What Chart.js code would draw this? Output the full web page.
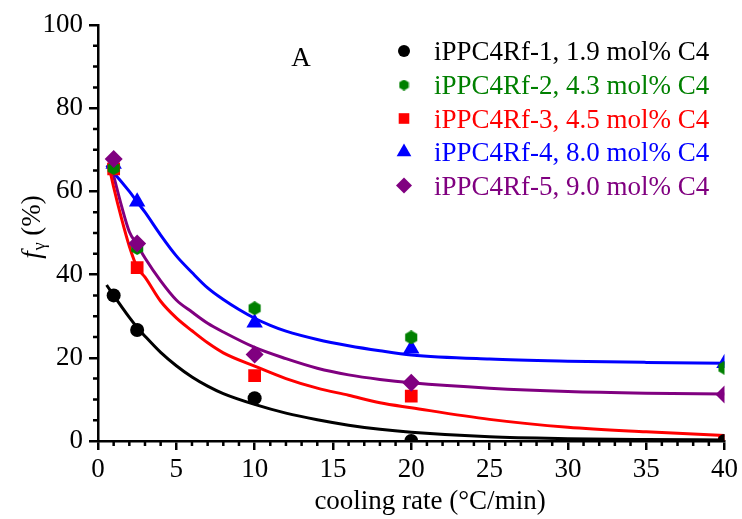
<!DOCTYPE html>
<html><head><meta charset="utf-8">
<script src="https://cdn.jsdelivr.net/npm/chart.js@4"></script>
<style>html,body{margin:0;padding:0;background:#fff}#wrap{width:742px;height:519px}</style>
</head><body><div id="wrap"><canvas id="c" width="742" height="519"></canvas></div>
<script>
// ---- data ----
const coolingRates = [1, 2.5, 10, 20, 40];
const seriesNames = [
  'iPPC4Rf-1, 1.9 mol% C4',
  'iPPC4Rf-2, 4.3 mol% C4',
  'iPPC4Rf-3, 4.5 mol% C4',
  'iPPC4Rf-4, 8.0 mol% C4',
  'iPPC4Rf-5, 9.0 mol% C4'
];
const fGamma1 = [35, 26.7, 10.3, 0, 0];
const fGamma2 = [65.6, 46.4, 31.9, 24.9, 17.6];
const fGamma3 = [65.4, 41.7, 15.7, 10.8, 0];
const fGamma4 = [66.6, 57.5, 28.4, 22.2, 18.7];
const fGamma5 = [67.8, 47.5, 20.8, 14.0, 11.2];

// fitted curves
const fitX1 = [0.55, 1, 2, 2.5, 3, 4, 5, 6, 7, 8, 10, 12, 14, 16, 18, 20, 25, 30, 35, 40];
const fitY1 = [37.5, 35, 29.7, 27.3, 25.2, 21.3, 18.1, 15.4, 13.2, 11.4, 8.8, 6.7, 5.1, 3.8, 2.8, 2.1, 1.0, 0.55, 0.35, 0.25];
const fitX3 = [0.66, 1, 1.5, 2, 2.5, 3, 4, 5, 6, 7, 8, 10, 12, 14, 16, 18, 20, 25, 30, 35, 40];
const fitY3 = [66.8, 61, 53.5, 46.8, 41.7, 39.4, 33.6, 29.6, 26.5, 23.6, 21.2, 18, 15, 12.7, 11.0, 9.2, 8.0, 5.2, 3.3, 2.2, 1.3];
const fitX4 = [0.55, 1, 2, 2.5, 3, 4, 5, 6, 7, 8, 9, 10, 11, 12, 14, 16, 18, 20, 25, 30, 35, 40];
const fitY4 = [66.3, 64.5, 60, 57.5, 55, 49.5, 44.5, 40.5, 36.8, 34, 31.6, 29.5, 27.8, 26.4, 24.4, 22.9, 21.7, 20.7, 19.7, 19.2, 18.9, 18.7];
const fitX5 = [0.76, 1, 1.5, 2, 2.5, 3, 4, 5, 6, 7, 8, 10, 12, 14, 16, 18, 20, 25, 30, 35, 40];
const fitY5 = [67.1, 63.7, 56.5, 50.3, 47.2, 44, 38.5, 33.9, 31, 28.3, 26.2, 22.5, 19.8, 17.5, 15.9, 14.8, 14.0, 12.7, 11.9, 11.5, 11.3];

const xTickValues = [0, 5, 10, 15, 20, 25, 30, 35, 40];
const yTickValues = [0, 20, 40, 60, 80, 100];

// ---- styles ----
const FONT = '"Liberation Serif", "Times New Roman", serif';
const colors = ['#000000', '#008000', '#ff0000', '#0000ff', '#800080'];

function hexCanvas(size, color) {
  const c = document.createElement('canvas');
  c.width = c.height = size;
  const g = c.getContext('2d');
  g.fillStyle = color;
  g.beginPath();
  const r = size / 2;
  for (let i = 0; i < 6; i++) {
    const a = Math.PI / 3 * i - Math.PI / 2;
    const px = r + r * Math.cos(a), py = r + r * Math.sin(a);
    if (i) g.lineTo(px, py); else g.moveTo(px, py);
  }
  g.closePath(); g.fill();
  return c;
}
const hexBig = hexCanvas(14, colors[1]);
const hexSmall = hexCanvas(11, colors[1]);

const markerStyles = [
  { pointStyle: 'circle', radius: 7, legendRadius: 6 },
  { pointStyle: hexBig, radius: 7, legendStyle: hexSmall, legendRadius: 5 },
  { pointStyle: 'rect', radius: 9, legendRadius: 7.5 },
  { pointStyle: 'triangle', radius: 9.5, legendRadius: 8.5 },
  { pointStyle: 'rectRot', radius: 9, legendRadius: 8 }
];
const drawOrder = [3, 2, 4, 5, 1];

const pointSets = [fGamma1, fGamma2, fGamma3, fGamma4, fGamma5];
const toXY = (xs, ys) => xs.map((x, i) => ({ x: x, y: ys[i] }));

const datasets = [];
pointSets.forEach((vals, i) => {
  datasets.push({
    label: seriesNames[i],
    data: toXY(coolingRates, vals),
    showLine: false,
    pointStyle: markerStyles[i].pointStyle,
    pointRadius: markerStyles[i].radius,
    pointHoverRadius: markerStyles[i].radius,
    backgroundColor: colors[i],
    borderColor: colors[i],
    pointBorderWidth: 0,
    order: drawOrder[i]
  });
});
const fits = [[fitX1, fitY1, 0], [fitX3, fitY3, 2], [fitX4, fitY4, 3], [fitX5, fitY5, 4]];
fits.forEach(([xs, ys, ci]) => {
  datasets.push({
    label: 'fit',
    data: toXY(xs, ys),
    showLine: true,
    borderColor: colors[ci],
    borderWidth: 3,
    pointRadius: 0,
    cubicInterpolationMode: 'monotone',
    fill: false,
    order: 10
  });
});

const extrasPlugin = {
  id: 'extras',
  afterDraw(chart) {
    const ctx = chart.ctx;
    const xs = chart.scales.x, ys = chart.scales.y;
    const x0 = xs.getPixelForValue(0), y0 = ys.getPixelForValue(0);
    ctx.save();
    // minor ticks
    ctx.strokeStyle = '#000';
    ctx.lineWidth = 2.5;
    ctx.beginPath();
    for (let v = 1; v < 40; v++) {
      if (v % 5 === 0) continue;
      const px = xs.getPixelForValue(v);
      ctx.moveTo(px, y0); ctx.lineTo(px, y0 + 5);
    }
    for (let v = 5; v < 100; v += 5) {
      if (v % 20 === 0) continue;
      const py = ys.getPixelForValue(v);
      ctx.moveTo(x0, py); ctx.lineTo(x0 - 5, py);
    }
    ctx.stroke();

    // panel label
    ctx.fillStyle = '#000';
    ctx.font = '27px ' + FONT;
    ctx.textAlign = 'center';
    ctx.textBaseline = 'alphabetic';
    ctx.fillText('A', 301, 66);

    // legend
    const rows = [51, 85, 118.5, 152, 185.5];
    seriesNames.forEach((name, i) => {
      const m = markerStyles[i];
      const cx = 404, cy = rows[i];
      ctx.fillStyle = colors[i];
      ctx.strokeStyle = colors[i];
      Chart.helpers.drawPoint(ctx, {
        pointStyle: m.legendStyle || m.pointStyle,
        radius: m.legendRadius, rotation: 0, borderWidth: 0
      }, cx, cy);
      ctx.fillStyle = colors[i];
      ctx.font = '27px ' + FONT;
      ctx.textAlign = 'left';
      ctx.textBaseline = 'alphabetic';
      ctx.fillText(name, 434, cy + 9);
    });

    // x-axis title
    ctx.fillStyle = '#000';
    ctx.font = '27px ' + FONT;
    ctx.textAlign = 'center';
    ctx.textBaseline = 'alphabetic';
    ctx.fillText('cooling rate (\u00B0C/min)', 430, 509);

    // y-axis title: f_γ (%)
    ctx.translate(40, 227);
    ctx.rotate(-Math.PI / 2);
    const fFont = 'italic 27px ' + FONT, subFont = '18px ' + FONT, nFont = '27px ' + FONT;
    ctx.font = fFont; const wF = ctx.measureText('f').width;
    ctx.font = subFont; const wG = ctx.measureText('\u03B3').width;
    ctx.font = nFont; const wR = ctx.measureText(' (%)').width;
    let sx = -(wF + wG + 1 + wR) / 2;
    ctx.textAlign = 'left';
    ctx.font = fFont; ctx.fillText('f', sx, 0); sx += wF + 1;
    ctx.font = subFont; ctx.fillText('\u03B3', sx, 5); sx += wG;
    ctx.font = nFont; ctx.fillText(' (%)', sx, 0);
    ctx.restore();
  }
};

new Chart(document.getElementById('c'), {
  type: 'scatter',
  data: { datasets: datasets },
  options: {
    responsive: false,
    animation: false,
    events: [],
    layout: { padding: { left: 0, right: 15, top: 25, bottom: 0 } },
    plugins: { legend: { display: false }, tooltip: { enabled: false } },
    scales: {
      x: {
        type: 'linear', min: 0, max: 40,
        afterFit(s) { s.height = 78; },
        afterBuildTicks(s) { s.ticks = xTickValues.map(v => ({ value: v })); },
        border: { display: true, color: '#000', width: 2.5 },
        grid: { display: true, drawOnChartArea: false, drawTicks: true, tickLength: 9, color: '#000', lineWidth: 2.5 },
        ticks: { color: '#000', font: { family: FONT, size: 27 }, padding: 4, maxRotation: 0 }
      },
      y: {
        type: 'linear', min: 0, max: 100,
        afterFit(s) { s.width = 98; },
        afterBuildTicks(s) { s.ticks = yTickValues.map(v => ({ value: v })); },
        border: { display: true, color: '#000', width: 2.5 },
        grid: { display: true, drawOnChartArea: false, drawTicks: true, tickLength: 9, color: '#000', lineWidth: 2.5 },
        ticks: { color: '#000', font: { family: FONT, size: 27 }, padding: 6 }
      }
    }
  },
  plugins: [extrasPlugin]
});
</script>
</body></html>
